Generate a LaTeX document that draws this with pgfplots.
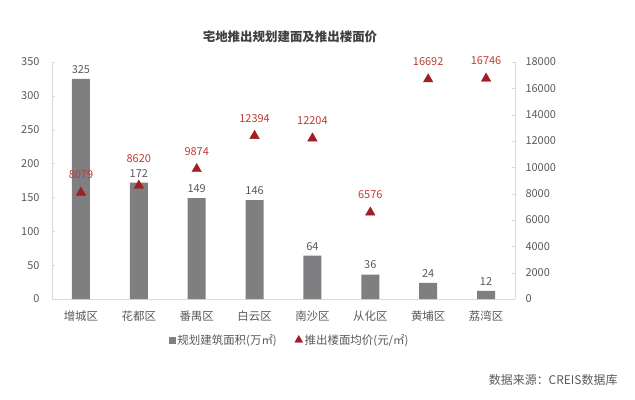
\documentclass[border=0pt]{standalone}
\usepackage{fontspec}
\setmainfont{Noto Sans CJK SC}
\usepackage{pgfplots}
\pgfplotsset{compat=1.18}
\definecolor{bargray}{HTML}{7F7E80}
\definecolor{tri}{HTML}{A31E22}
\definecolor{trilab}{HTML}{BD3B32}
\definecolor{txt}{HTML}{595959}
\definecolor{axl}{HTML}{D9D9D9}
\definecolor{ttl}{HTML}{404040}
\begin{document}
\begin{tikzpicture}[x=1bp,y=1bp]
\useasboundingbox (0,0) rectangle (635,399);
\pgfplotsset{
  common/.style={
    at={(52bp,100bp)}, anchor=south west,
    width=463bp, height=237bp, scale only axis,
    xmin=-0.5, xmax=7.5,
    axis line style={axl},
    tick style={axl},
    major tick length=3bp,
    tick label style={font=\fontsize{11}{13}\selectfont, text=txt},
    /pgf/number format/assume math mode=true,
    /pgf/number format/set thousands separator={},
    scaled ticks=false,
  }
}
\begin{axis}[common,
  ymin=0, ymax=350, ytick={0,50,...,350},
  xtick={0,...,7},
  xticklabels={增城区,花都区,番禺区,白云区,南沙区,从化区,黄埔区,荔湾区},
  x tick label style={font=\fontsize{11.5}{13}\selectfont, yshift=-5bp},
  y tick label style={xshift=-9bp},
  xtick style={draw=none},
  axis x line*=bottom, axis y line*=left,
  ybar, bar width=18bp,
  nodes near coords,
  nodes near coords style={font=\fontsize{11}{13}\selectfont, text=txt, yshift=2bp},
]
\addplot[fill=bargray, draw=none] coordinates {(0,325) (1,172) (2,149) (3,146) (4,64) (5,36) (6,24) (7,12)};
\end{axis}
\begin{axis}[common,
  ymin=0, ymax=18000, ytick={0,2000,...,18000},
  axis y line*=right, axis x line=none,
  y tick label style={xshift=7bp},
  nodes near coords,
  nodes near coords style={font=\fontsize{11}{13}\selectfont, text=trilab, yshift=10bp},
  legend style={at={(0.514,-0.173)}, anchor=center, draw=none, fill=none,
    legend columns=2, font=\fontsize{11.5}{13}\selectfont, text=txt,
    /tikz/every even column/.append style={column sep=16bp}},
  legend cell align=left,
]
\addlegendimage{only marks, mark=square*, mark size=3bp, color=bargray}
\addlegendentry{规划建筑面积(万㎡)}
\addlegendimage{only marks, mark=triangle*, mark size=4.5bp, color=tri}
\addlegendentry{推出楼面均价(元/㎡)}
\addplot[only marks, mark=triangle*, mark size=5.5bp, color=tri, forget plot] coordinates {(0,8079) (2,9874) (3,12394) (4,12204) (5,6576) (6,16692) (7,16746)};
\addplot[only marks, mark=triangle*, mark size=5.5bp, color=tri, forget plot, nodes near coords style={yshift=9bp}] coordinates {(1,8620)};
\end{axis}
\node[font=\fontsize{12.5}{14}\selectfont\bfseries, text=ttl] at (290,362) {宅地推出规划建面及推出楼面价};
\node[anchor=east, font=\fontsize{12}{14}\selectfont, text=txt] at (621,19) {数据来源：CREIS数据库};
\end{tikzpicture}
\end{document}
